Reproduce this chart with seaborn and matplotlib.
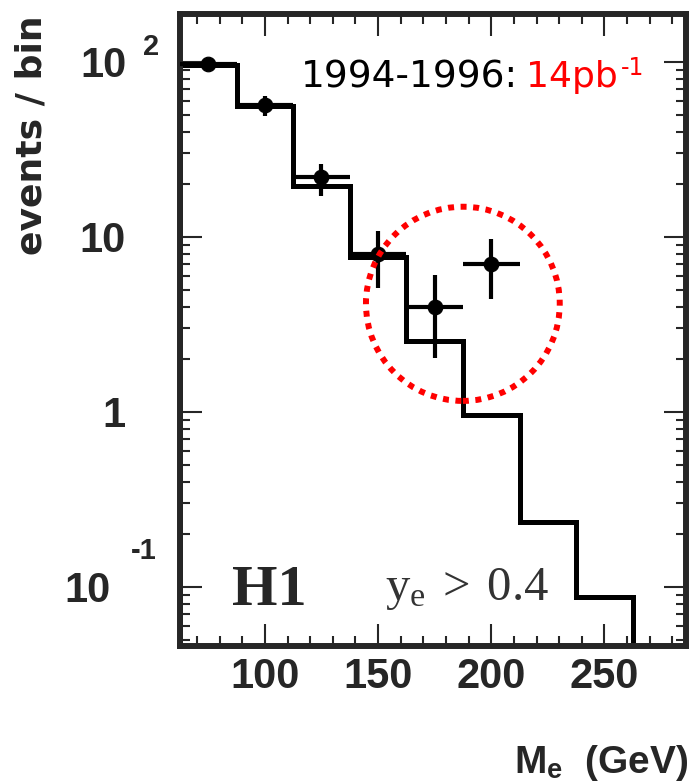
import matplotlib
matplotlib.use('Agg')

import matplotlib.pyplot as plt
import matplotlib.transforms as mtransforms
from matplotlib.patches import Ellipse
from matplotlib.ticker import MultipleLocator, NullFormatter, LogLocator
import seaborn as sns

# histogram (expectation), bins of 25 GeV
bin_edges = [62.5, 87.5, 112.5, 137.5, 162.5, 187.5, 212.5, 237.5, 262.5]
mc_counts = [96, 56, 19.5, 7.7, 2.55, 0.96, 0.235, 0.088]

# data points
data_mass = [75, 100, 125, 150, 175, 200]
data_counts = [97, 57, 22, 8, 4, 7]
err_low = [8, 8, 4.8, 2.9, 1.96, 2.6]
err_high = [8, 7, 4.2, 2.8, 2.06, 2.7]
half_bin = 12.5

y_ticks = [0.1, 1, 10, 100]
y_ticklabels = ['', '1', '10', '']
x_ticks = [100, 150, 200, 250]

sns.set_style('ticks')
plt.rcParams['font.family'] = ['Liberation Sans', 'DejaVu Sans']
plt.rcParams['mathtext.fontset'] = 'custom'
plt.rcParams['mathtext.rm'] = 'Liberation Serif'
plt.rcParams['mathtext.it'] = 'Liberation Serif:italic'
plt.rcParams['mathtext.bf'] = 'Liberation Sans:bold'

fig = plt.figure(figsize=(6.92, 7.84), dpi=100)
ax = fig.add_axes([180 / 692, 1 - 646 / 784, 506 / 692, 632.5 / 784])

ax.stairs(mc_counts, bin_edges, baseline=1e-4, color='black', linewidth=3.6, zorder=2)
ax.errorbar(data_mass, data_counts, yerr=[err_low, err_high], xerr=half_bin,
            fmt='none', ecolor='black', elinewidth=3, capsize=0, zorder=3)
sns.scatterplot(x=data_mass, y=data_counts, color='black', s=110,
                edgecolor='black', zorder=4, ax=ax, legend=False)

ax.set_yscale('log')
ax.set_xlim(62.5, 286)
ax.set_ylim(0.046, 189)

ax.xaxis.set_major_locator(MultipleLocator(50))
ax.xaxis.set_minor_locator(MultipleLocator(10))
ax.set_xticks(x_ticks)
ax.set_yticks(y_ticks)
ax.set_yticklabels(y_ticklabels)
ax.yaxis.set_minor_locator(LogLocator(base=10, subs=range(2, 10)))
ax.yaxis.set_minor_formatter(NullFormatter())

ax.tick_params(which='both', direction='in', top=True, right=True, width=1.5)
ax.tick_params(which='major', length=16)
ax.tick_params(which='minor', length=7.5)
ax.tick_params(axis='x', which='major', pad=8, labelsize=30)
ax.tick_params(axis='y', which='major', pad=39, labelsize=30)
for lab in ax.get_xticklabels() + ax.get_yticklabels():
    lab.set_fontweight('bold')
for sp in ax.spines.values():
    sp.set_linewidth(4.3)
ax.set_xlabel('')
ax.set_ylabel('')

# exponent tick labels
blend = mtransforms.blended_transform_factory(ax.transAxes, ax.transData)
ax.text(-0.1047, 100, '10', transform=blend, ha='right', va='center_baseline',
        fontsize=30, fontweight='bold', clip_on=False)
ax.text(-0.073, 121, '2', transform=blend, ha='left', va='center',
        fontsize=21, fontweight='bold', clip_on=False)
ax.text(-0.138, 0.1, '10', transform=blend, ha='right', va='center_baseline',
        fontsize=30, fontweight='bold', clip_on=False)
ax.text(-0.0455, 0.16, '-1', transform=blend, ha='right', va='center',
        fontsize=21, fontweight='bold', clip_on=False)

# red dotted circle
circ = Ellipse((0.559, 0.541), 0.383, 0.307, transform=ax.transAxes, fill=False,
               edgecolor='#ff0000', linewidth=4.3, linestyle=(0, (1, 1.1)), zorder=5)
ax.add_patch(circ)

# annotations
ax.text(0.668, 0.8996, '1994-1996:', transform=ax.transAxes, ha='right', va='center',
        fontsize=27, family='DejaVu Sans', color='black')
ax.text(0.684, 0.8996, '14pb', transform=ax.transAxes, ha='left', va='center',
        fontsize=26, family='DejaVu Sans', color='#ff0000')
ax.text(0.872, 0.9146, '-1', transform=ax.transAxes, ha='left', va='center',
        fontsize=17, family='DejaVu Sans', color='#ff0000')
ax.text(0.1028, 0.0648, 'H1', transform=ax.transAxes, ha='left', va='baseline',
        fontsize=42, fontweight='bold', family='Liberation Serif')
ax.text(0.405, 0.0727, r'$\mathrm{y_{e}}\;\mathrm{>}\;\mathrm{0.4}$', transform=ax.transAxes,
        ha='left', va='baseline', fontsize=35, color='#333333')

fig.text(32 / 692, 1 - 15 / 784, 'events / bin', rotation=90, ha='center', va='top',
         fontsize=26, fontweight='bold', family='DejaVu Sans')
fig.text(688 / 692, 1 - 773 / 784, r'M$_{\mathbf{e}}$  (GeV)', ha='right', va='baseline',
         fontsize=28, fontweight='bold')

fig.savefig('out.png', dpi=100)
